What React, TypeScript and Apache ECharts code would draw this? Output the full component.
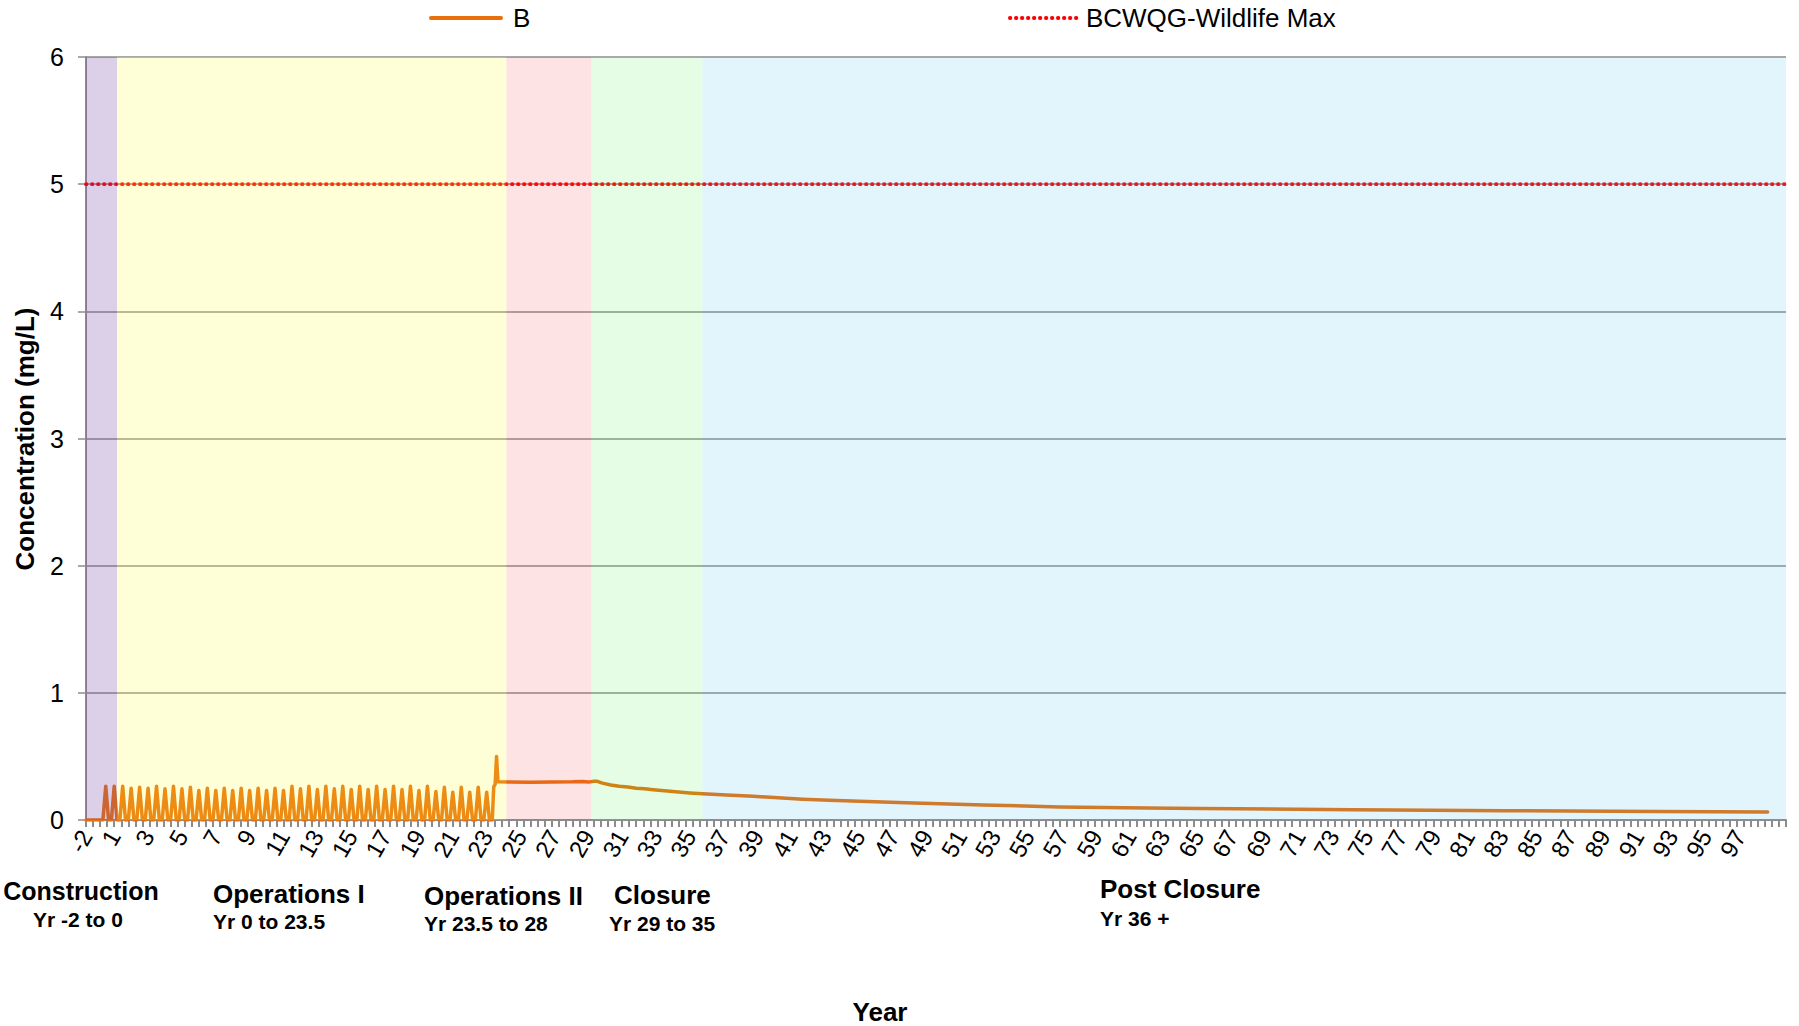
import React, { useEffect, useRef } from "react";
import * as echarts from "echarts";

// ---- category axis: monthly model time steps ----
const N_STEPS = 1206;
const FIRST_YEAR_STEP = 20; // time step carrying the label "1"
const STEPS_PER_LABEL = 24; // one label every 2 years (24 months)
const xTickLabels = [
  "-2", "1", "3", "5", "7", "9", "11", "13", "15", "17", "19", "21", "23", "25", "27", "29",
  "31", "33", "35", "37", "39", "41", "43", "45", "47", "49", "51", "53", "55", "57", "59",
  "61", "63", "65", "67", "69", "71", "73", "75", "77", "79", "81", "83", "85", "87", "89",
  "91", "93", "95", "97",
];
const yTickValues = [0, 1, 2, 3, 4, 5, 6];

// ---- series B (mg/L), [timeStep, value] ----
const constructionB: [number, number][] = [[0, 0], [12, 0]];
const opsPeakFirstStep = 14;
const opsPeakSpacing = 6; // two freshet peaks per year
const opsPeakValues = [
  0.266, 0.266, 0.266, 0.25, 0.258, 0.25, 0.266, 0.245, 0.266, 0.245, 0.258, 0.232,
  0.25, 0.232, 0.25, 0.232, 0.25, 0.232, 0.25, 0.232, 0.25, 0.232, 0.266, 0.245,
  0.266, 0.24, 0.266, 0.245, 0.266, 0.24, 0.266, 0.24, 0.266, 0.24, 0.266, 0.24,
  0.266, 0.232, 0.266, 0.224, 0.258, 0.219, 0.258, 0.219, 0.258, 0.219,
];
const laterB: [number, number][] = [
  [288, 0], [289, 0.26], [290, 0.28], [291, 0.5], [292, 0.3], [300, 0.298], [315, 0.297],
  [330, 0.299], [345, 0.3], [352, 0.303], [356, 0.298], [360, 0.305], [362, 0.305],
  [366, 0.29], [372, 0.275], [378, 0.265], [384, 0.26], [390, 0.25], [396, 0.245],
  [402, 0.238], [408, 0.232], [414, 0.226], [420, 0.22], [428, 0.213], [437, 0.207],
  [454, 0.197], [473, 0.186], [508, 0.164], [527, 0.155], [581, 0.135], [636, 0.118],
  [690, 0.103], [752, 0.095], [790, 0.09], [898, 0.081], [1006, 0.073], [1115, 0.067],
  [1192, 0.063],
];
const wildlifeMax = 5;

// ---- project phases (time steps) ----
const phaseNames = ["Construction", "Operations I", "Operations II", "Closure", "Post Closure"];
const phaseRanges = ["Yr -2 to 0", "Yr 0 to 23.5", "Yr 23.5 to 28", "Yr 29 to 35", "Yr 36 +"];
const phaseStartSteps = [0, 22, 298, 358, 437];
const phaseEndSteps = [22, 298, 358, 437, 1205];
const phaseColors = [
  "rgba(115,67,163,0.25)",
  "rgba(255,255,55,0.2)",
  "rgba(242,68,68,0.15)",
  "rgba(75,242,75,0.15)",
  "rgba(62,188,235,0.15)",
];

const FONT = "'Liberation Sans', Arial, Helvetica, sans-serif";

export default function App() {
  const ref = useRef<HTMLDivElement>(null);

  useEffect(() => {
    if (!ref.current) return;
    const chart = echarts.init(ref.current, undefined, { renderer: "svg" });

    const categories = Array.from({ length: N_STEPS }, (_, i) => String(i));
    const labelAtStep = new Map<number, string>();
    xTickLabels.forEach((t, j) =>
      labelAtStep.set(j === 0 ? 0 : FIRST_YEAR_STEP + (j - 1) * STEPS_PER_LABEL, t)
    );

    const bData: [number, number][] = [...constructionB];
    opsPeakValues.forEach((v, k) => {
      const p = opsPeakFirstStep + k * opsPeakSpacing;
      bData.push([p - 2, 0], [p, v], [p + 2, 0]);
    });
    bData.push(...laterB);

    const phaseLabelPos = [
      { x: 81, y1: 891, y2: 919, x2: 78, align: "center" },
      { x: 213, y1: 894, y2: 921, x2: 213, align: "left" },
      { x: 424, y1: 896, y2: 923, x2: 424, align: "left" },
      { x: 614, y1: 895, y2: 923, x2: 609, align: "left" },
      { x: 1100, y1: 889, y2: 918, x2: 1100, align: "left" },
    ];

    const txt = (text: string, x: number, y: number, size: number, align: string, rotation = 0) => ({
      type: "text",
      x,
      y,
      rotation,
      style: {
        text,
        fontFamily: FONT,
        fontSize: size,
        fontWeight: "bold",
        fill: "#000",
        textAlign: align,
        align,
        textVerticalAlign: "middle",
        verticalAlign: "middle",
      },
    });

    const graphics: any[] = [];
    phaseNames.forEach((n, i) => {
      const p = phaseLabelPos[i];
      graphics.push(txt(n, p.x, p.y1, i === 0 ? 25 : 26, p.align));
      graphics.push(txt(phaseRanges[i], p.x2, p.y2, 21, p.align));
    });
    graphics.push(txt("Year", 880, 1012, 26, "center"));
    graphics.push(txt("Concentration (mg/L)", 25, 439, 26, "center", Math.PI / 2));

    const legendCommon = {
      top: 0,
      itemWidth: 70,
      itemHeight: 14,
      itemGap: 0,
      selectedMode: false,
      itemStyle: { opacity: 0, borderWidth: 0 },
    };

    chart.setOption({
      animation: false,
      backgroundColor: "#ffffff",
      textStyle: { fontFamily: FONT },
      legend: [
        {
          ...legendCommon,
          left: 424,
          data: ["B"],
          lineStyle: { width: 4 },
          textStyle: { fontSize: 26, color: "#000", fontFamily: FONT, padding: [0, 0, 0, 7] },
        },
        {
          ...legendCommon,
          left: 1003,
          data: ["BCWQG-Wildlife Max"],
          lineStyle: { width: 3.8, type: [0.5, 5.5], cap: "round" },
          textStyle: { fontSize: 26, color: "#000", fontFamily: FONT, padding: [0, 0, 0, 1] },
        },
      ],
      grid: { left: 86, right: 13, top: 57, bottom: 206, containLabel: false },
      xAxis: {
        type: "category",
        data: categories,
        boundaryGap: false,
        axisLine: { show: true, lineStyle: { color: "#8c8c8c", width: 2 } },
        axisTick: {
          show: true,
          interval: (i: number) => i % 5 === 0,
          length: 7,
          lineStyle: { color: "#8c8c8c", width: 2 },
        },
        axisLabel: {
          interval: (i: number) => labelAtStep.has(i),
          formatter: (v: string) => labelAtStep.get(Number(v)) ?? "",
          rotate: 60,
          fontSize: 24,
          color: "#000",
          margin: 12,
          fontFamily: FONT,
        },
        splitLine: { show: false },
      },
      yAxis: {
        type: "value",
        min: yTickValues[0],
        max: yTickValues[yTickValues.length - 1],
        interval: 1,
        axisLine: { show: true, lineStyle: { color: "#8c8c8c", width: 2 } },
        axisTick: { show: true, length: 8, lineStyle: { color: "#8c8c8c", width: 1.5 } },
        axisLabel: { fontSize: 25, color: "#000", margin: 22, fontFamily: FONT },
        splitLine: { show: true, lineStyle: { color: "#8c8c8c", width: 1.5 } },
      },
      series: [
        {
          name: "B",
          type: "line",
          data: bData,
          symbol: "none",
          z: 3,
          lineStyle: { color: "#E8700C", width: 3.5, join: "round", cap: "round" },
          itemStyle: { color: "#E8700C" },
          markArea: {
            silent: true,
            z: 10,
            data: phaseStartSteps.map((s, i) => [
              { xAxis: s, itemStyle: { color: phaseColors[i] } },
              { xAxis: phaseEndSteps[i] },
            ]),
          },
        },
        {
          name: "BCWQG-Wildlife Max",
          type: "line",
          data: [
            [0, wildlifeMax],
            [N_STEPS - 1, wildlifeMax],
          ],
          symbol: "none",
          z: 4,
          lineStyle: { color: "#FF0000", width: 3.8, type: [0.5, 5.5], cap: "round" },
          itemStyle: { color: "#FF0000" },
        },
      ],
      graphic: graphics,
    });

    return () => chart.dispose();
  }, []);

  return (
    <div
      ref={ref}
      style={{ position: "fixed", left: 0, top: 0, width: 1799, height: 1026, background: "#fff" }}
    />
  );
}
